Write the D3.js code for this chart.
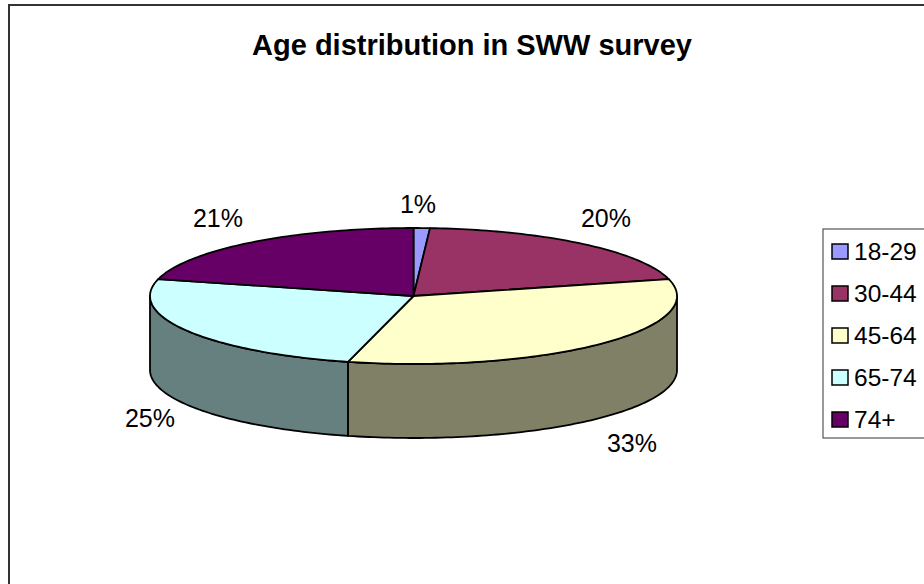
<!DOCTYPE html>
<html>
<head>
<meta charset="utf-8">
<script src="https://cdn.jsdelivr.net/npm/d3@7"></script>
<style>
  html, body { margin: 0; padding: 0; background: #fff; }
  svg { display: block; }
  text { font-family: "Liberation Sans", Arial, sans-serif; fill: #000; }
</style>
</head>
<body>
<div id="chart"></div>
<script>
const title = "Age distribution in SWW survey";
const categories = ["18-29", "30-44", "45-64", "65-74", "74+"];
const shares = [1, 20, 33, 25, 21];
const topColors = ["#9999ff", "#993366", "#ffffcc", "#ccffff", "#660066"];
const sideColors = ["#66667f", "#66334c", "#808066", "#668080", "#4c004c"];

const width = 924, height = 584;
const cx = 413.5, cy = 296, rx = 263.5, ry = 68, depth = 74;

const svg = d3.select("#chart").append("svg")
  .attr("width", width)
  .attr("height", height);

// outer frame, runs off the right and bottom of the page
svg.append("rect")
  .attr("x", 9).attr("y", 5)
  .attr("width", width).attr("height", height)
  .attr("fill", "#fff")
  .attr("stroke", "#333")
  .attr("stroke-width", 2);

svg.append("text")
  .attr("x", 472).attr("y", 55)
  .attr("text-anchor", "middle")
  .style("font-size", "29px")
  .style("font-weight", "bold")
  .text(title);

const pie = d3.pie().sort(null).value(d => d);
const arcs = pie(shares);

// angle measured clockwise from the top of the tilted disc
const px = a => cx + rx * Math.sin(a);
const py = a => cy - ry * Math.cos(a);
const line = d3.line();

function rimPoints(a0, a1) {
  const n = Math.max(2, Math.ceil((a1 - a0) / 0.02));
  return d3.range(n + 1).map(i => {
    const a = a0 + (a1 - a0) * i / n;
    return [px(a), py(a)];
  });
}

// side wall: only the front half of the rim faces the viewer
const wallData = arcs.map((d, i) => ({
  i,
  a0: Math.max(d.startAngle, Math.PI / 2),
  a1: Math.min(d.endAngle, Math.PI * 3 / 2)
})).filter(d => d.a1 > d.a0);

svg.selectAll(".wall")
  .data(wallData)
  .enter().append("path")
  .attr("class", "wall")
  .attr("d", d => {
    const upper = rimPoints(d.a0, d.a1);
    const lower = upper.map(p => [p[0], p[1] + depth]).reverse();
    return line(upper.concat(lower)) + "Z";
  })
  .attr("fill", d => sideColors[d.i])
  .attr("stroke", "#000")
  .attr("stroke-width", 1.8)
  .attr("stroke-linejoin", "round");

svg.selectAll(".slice")
  .data(arcs)
  .enter().append("path")
  .attr("class", "slice")
  .attr("d", d => line([[cx, cy]].concat(rimPoints(d.startAngle, d.endAngle))) + "Z")
  .attr("fill", (d, i) => topColors[i])
  .attr("stroke", "#000")
  .attr("stroke-width", 1.8)
  .attr("stroke-linejoin", "round");

// percentage labels sit outside the rim
const labelPos = [[418, 213], [606, 227], [632, 452], [150, 427], [218, 227]];
svg.selectAll(".pct")
  .data(arcs)
  .enter().append("text")
  .attr("class", "pct")
  .attr("x", (d, i) => labelPos[i][0])
  .attr("y", (d, i) => labelPos[i][1])
  .attr("text-anchor", "middle")
  .style("font-size", "25px")
  .text(d => d.data + "%");

// legend
const legend = svg.append("g");
legend.append("rect")
  .attr("x", 823).attr("y", 229)
  .attr("width", 120).attr("height", 209)
  .attr("fill", "#fff")
  .attr("stroke", "#555")
  .attr("stroke-width", 1.2);

const legendY = d3.scalePoint()
  .domain(categories)
  .range([251, 419]);

const rows = legend.selectAll(".row")
  .data(categories)
  .enter().append("g")
  .attr("class", "row")
  .attr("transform", d => "translate(0," + legendY(d) + ")");

rows.append("rect")
  .attr("x", 832).attr("y", -7)
  .attr("width", 16).attr("height", 15)
  .attr("fill", (d, i) => topColors[i])
  .attr("stroke", "#000")
  .attr("stroke-width", 1.5);

rows.append("text")
  .attr("x", 854).attr("y", 8.5)
  .style("font-size", "24.5px")
  .text(d => d);
</script>
</body>
</html>
